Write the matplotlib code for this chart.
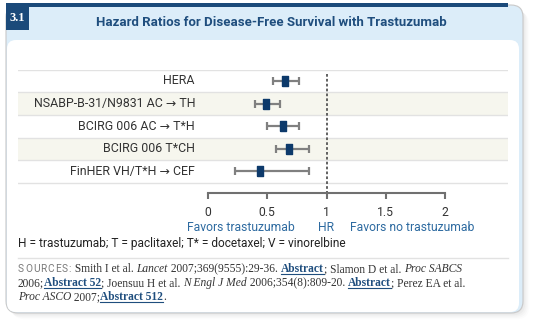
import matplotlib
matplotlib.use("Agg")
import matplotlib.pyplot as plt
from matplotlib.patches import FancyBboxPatch, Rectangle

# ---------------- data ----------------
studies = ["HERA", "NSABP-B-31/N9831 AC \u2192 TH", "BCIRG 006 AC \u2192 T*H",
           "BCIRG 006 T*CH", "FinHER VH/T*H \u2192 CEF"]
hr = [0.65, 0.49, 0.63, 0.68, 0.44]
ci_low = [0.55, 0.40, 0.50, 0.57, 0.23]
ci_high = [0.77, 0.61, 0.77, 0.85, 0.85]
xticks = [0, 0.5, 1, 1.5, 2]
xticklabels = ["0", "0.5", "1", "1.5", "2"]
title = "Hazard Ratios for Disease-Free Survival with Trastuzumab"
badge = "3.1"
footnote = "H = trastuzumab; T = paclitaxel; T* = docetaxel; V = vinorelbine"

W, H = 540, 330
DPI = 100
fig = plt.figure(figsize=(W / DPI, H / DPI), dpi=DPI)

NAVY = "#1b4a7a"
TITLE_C = "#1f4e7e"
LIGHT = "#dcedf9"
BEIGE = "#f6f6ee"
SEP = "#e2e2e2"
BLUE_T = "#2d6aa0"
SANS = ["Roboto", "DejaVu Sans"]
SERIF = ["Liberation Serif", "DejaVu Serif"]

def fx(px):
    return px / W

def fy(py):
    return 1 - py / H

# ---------------- background card ----------------
bg = fig.add_axes([0, 0, 1, 1], zorder=-5)
bg.set_xlim(0, W)
bg.set_ylim(H, 0)
bg.axis("off")

# shadow
for i, a in enumerate([0.06, 0.05, 0.04, 0.03, 0.02]):
    d = 1 + i * 1.3
    bg.add_patch(FancyBboxPatch((6 + d, 6 + d), 517, 307,
                                boxstyle="round,pad=0,rounding_size=12",
                                fc="#888888", ec="none", alpha=a))
# card
bg.add_patch(FancyBboxPatch((6, 5), 517, 308,
                            boxstyle="round,pad=0,rounding_size=12",
                            fc=LIGHT, ec="#c9c9c9", lw=0.8))
# white inner panel
bg.add_patch(FancyBboxPatch((7, 40), 512, 272,
                            boxstyle="round,pad=0,rounding_size=9",
                            fc="white", ec="none"))
bg.add_patch(Rectangle((7, 60), 20, 240, fc="white", ec="none"))
# top dark strip
bg.add_patch(Rectangle((6, 3), 502, 3.5, fc=NAVY, ec="none"))
# badge
bg.add_patch(Rectangle((6, 6), 23, 24, fc=NAVY, ec="none"))
fig.text(fx(17.5), fy(18), badge, color="white", fontsize=9, fontweight="bold",
         family=SERIF, ha="center", va="center")
# title
fig.text(fx(271), fy(22.5), title, color=TITLE_C, fontsize=9.5, fontweight="bold",
         family=SANS, ha="center", va="center")

# ---------------- forest plot ----------------
ax_l, ax_r = 18, 508
ax_t, ax_b = 69.7, 193
ax = fig.add_axes([fx(ax_l), fy(ax_b), (ax_r - ax_l) / W, (ax_b - ax_t) / H])
ax.patch.set_alpha(0)
x0_px, unit = 208, 118.5
ax.set_xlim((ax_l - x0_px) / unit, (ax_r - x0_px) / unit)
row_h = 22.6
n = len(studies)
ax.set_ylim(n - 0.5 + (ax_b - (ax_t + n * row_h)) / row_h, -0.5)

for i in range(n):
    if i % 2 == 1:
        ax.axhspan(i - 0.5, i + 0.5, color=BEIGE, lw=0, zorder=0)
for i in range(n + 1):
    ax.axhline(i - 0.5, color=SEP, lw=1.0, zorder=1)

label_x = (195 - x0_px) / unit
for i, s in enumerate(studies):
    ax.text(label_x, i, s, ha="right", va="center", fontsize=8.9,
            family=SANS, color="#333333")

ys = list(range(n))
xerr = [[h - l for h, l in zip(hr, ci_low)], [u - h for h, u in zip(hr, ci_high)]]
ax.errorbar(hr, ys, xerr=xerr, fmt="none", ecolor="#808080", elinewidth=1.6,
            capsize=3, capthick=1.6, zorder=3)
rect_marker = [(-0.62, -1), (0.62, -1), (0.62, 1), (-0.62, 1), (-0.62, -1)]
ax.plot(hr, ys, linestyle="none", marker=rect_marker, markersize=7.5,
        color="#0d3a6b", zorder=4)

top_dash = -0.5 + (74 - ax_t) / row_h
ax.plot([1, 1], [top_dash, ax.get_ylim()[0]], color="#555555", lw=1.3,
        linestyle=(0, (1.5, 1.2)), zorder=2)

for sp in ["top", "right", "left"]:
    ax.spines[sp].set_visible(False)
ax.spines["bottom"].set_bounds(0, 2)
ax.spines["bottom"].set_color("#707070")
ax.spines["bottom"].set_linewidth(1.5)
ax.set_yticks([])
ax.set_xticks(xticks)
ax.set_xticklabels(xticklabels, family=SANS, fontsize=8.7, color="#333333")
ax.tick_params(axis="x", direction="out", length=4, width=1.5, color="#707070", pad=5)

fig.canvas.draw()
def x_to_fig(xd):
    disp = ax.transData.transform((xd, 0))
    return fig.transFigure.inverted().transform(disp)[0]

fig.text(x_to_fig(0.28), fy(227.5), "Favors trastuzumab", color=BLUE_T, fontsize=8.7,
         family=SANS, ha="center", va="center")
fig.text(x_to_fig(1.0), fy(227.5), "HR", color=BLUE_T, fontsize=8.7,
         family=SANS, ha="center", va="center")
fig.text(x_to_fig(1.72), fy(227.5), "Favors no trastuzumab", color=BLUE_T, fontsize=8.7,
         family=SANS, ha="center", va="center")

fig.text(fx(18), fy(244), footnote, color="#222222", fontsize=8.6, family=SANS,
         ha="left", va="center")
bg.plot([18, 508], [258, 258], color=SEP, lw=1.0)

# ---------------- sources (rich text) ----------------
renderer = fig.canvas.get_renderer()
sources_lines = [
    [("SOURCES:", "cap"), (" Smith I et al. ", "n"), ("Lancet", "i"),
     (" 2007;369(9555):29-36. ", "n"), ("Abstract", "b"), ("; Slamon D et al. ", "n"),
     ("Proc SABCS", "i")],
    [("2006;", "n"), ("Abstract 52", "b"), ("; Joensuu H et al. ", "n"),
     ("N Engl J Med", "i"), (" 2006;354(8):809-20. ", "n"), ("Abstract", "b"),
     ("; Perez EA et al.", "n")],
    [("Proc ASCO", "i"), (" 2007;", "n"), ("Abstract 512", "b"), (".", "n")],
]
line_y = [272, 286, 300]
FS = 8.3
styles = {
    "n": dict(family=SERIF, fontsize=FS, color="#333333"),
    "i": dict(family=SERIF, fontsize=FS, color="#333333", style="italic"),
    "b": dict(family=SERIF, fontsize=FS, color="#1f4e7e", fontweight="bold"),
    "cap": dict(family=SANS, fontsize=7.3, color="#7a7a7a"),
}

def text_width(s, st):
    t = fig.text(0, 0, "|" + s + "|", **st)
    w = t.get_window_extent(renderer).width
    t.remove()
    t2 = fig.text(0, 0, "||", **st)
    w2 = t2.get_window_extent(renderer).width
    t2.remove()
    return w - w2

for runs, yy in zip(sources_lines, line_y):
    x = 18.0
    for s, key in runs:
        st = styles[key]
        if key == "cap":
            for ch in s:
                fig.text(fx(x), fy(yy), ch, ha="left", va="baseline", **st)
                x += text_width(ch, st) + 0.9
            continue
        fig.text(fx(x), fy(yy), s, ha="left", va="baseline", **st)
        w = text_width(s, st)
        if key == "b":
            bg.plot([x, x + w], [yy + 1.8, yy + 1.8], color="#1f4e7e", lw=0.8)
        x += w

fig.savefig("out.png", dpi=DPI)
